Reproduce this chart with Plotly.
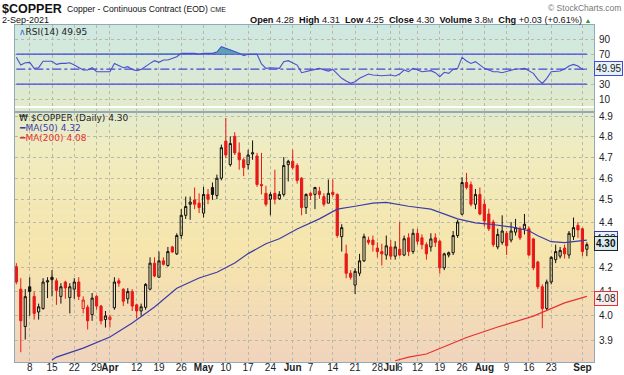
import plotly.graph_objects as go
import pandas as pd

# ---------------- data ----------------
holidays = ["2021-04-02", "2021-05-31", "2021-07-05"]
dates = [d.strftime("%Y-%m-%d") for d in pd.bdate_range("2021-03-03", "2021-09-02")
         if d.strftime("%Y-%m-%d") not in holidays]

open_ = [4.205, 4.11, 3.957, 4.12, 4.08, 4.016, 4.03, 4.14, 4.16, 4.145,
         4.08, 4.14, 4.075, 4.11, 4.14, 4.03, 4.035, 4.005, 4.08, 4.04,
         3.985, 3.985, 4.033, 4.145, 4.11, 4.07, 4.10, 4.045, 4.02, 4.035,
         4.11, 4.22, 4.16, 4.23, 4.21, 4.29, 4.26, 4.34, 4.43, 4.48,
         4.50, 4.485, 4.44, 4.525, 4.557, 4.52, 4.60, 4.777, 4.664, 4.80,
         4.72, 4.687, 4.664, 4.715, 4.705, 4.571, 4.53, 4.503, 4.53, 4.505,
         4.525, 4.664, 4.68, 4.66, 4.60, 4.465, 4.53, 4.525, 4.54, 4.515,
         4.485, 4.535, 4.525, 4.335, 4.26, 4.177, 4.127, 4.177, 4.23, 4.32,
         4.32, 4.285, 4.27, 4.255, 4.29, 4.25, 4.28, 4.255, 4.33, 4.27,
         4.35, 4.33, 4.30, 4.29, 4.33, 4.315, 4.20, 4.255, 4.265, 4.34,
         4.435, 4.58, 4.57, 4.48, 4.525, 4.48, 4.436, 4.40, 4.29, 4.31,
         4.35, 4.32, 4.355, 4.37, 4.37, 4.37, 4.325, 4.225, 4.12, 4.03,
         4.14, 4.235, 4.25, 4.285, 4.255, 4.335, 4.385, 4.37, 4.28]
high = [4.22, 4.156, 4.11, 4.16, 4.10, 4.05, 4.156, 4.16, 4.19, 4.156,
        4.135, 4.145, 4.135, 4.156, 4.16, 4.08, 4.045, 4.094, 4.085, 4.045,
        4.02, 4.005, 4.16, 4.156, 4.114, 4.114, 4.11, 4.05, 4.05, 4.135,
        4.245, 4.245, 4.27, 4.245, 4.29, 4.295, 4.35, 4.458, 4.515, 4.515,
        4.557, 4.53, 4.56, 4.55, 4.58, 4.617, 4.76, 4.89, 4.80, 4.82,
        4.77, 4.695, 4.735, 4.78, 4.72, 4.72, 4.565, 4.535, 4.64, 4.54,
        4.70, 4.687, 4.735, 4.67, 4.605, 4.53, 4.535, 4.56, 4.56, 4.53,
        4.594, 4.594, 4.53, 4.39, 4.30, 4.19, 4.198, 4.26, 4.348, 4.335,
        4.34, 4.31, 4.304, 4.34, 4.32, 4.315, 4.40, 4.34, 4.35, 4.37,
        4.37, 4.345, 4.31, 4.35, 4.35, 4.32, 4.265, 4.27, 4.36, 4.41,
        4.605, 4.625, 4.585, 4.55, 4.557, 4.50, 4.46, 4.41, 4.37, 4.43,
        4.36, 4.40, 4.414, 4.38, 4.436, 4.38, 4.33, 4.23, 4.13, 4.15,
        4.25, 4.30, 4.29, 4.30, 4.36, 4.42, 4.40, 4.375, 4.31]
low = [4.13, 3.855, 3.905, 4.00, 3.985, 3.985, 4.025, 4.073, 4.08, 4.045,
       4.05, 4.07, 4.01, 4.07, 4.065, 4.01, 3.945, 3.98, 4.025, 3.965,
       3.953, 3.953, 4.025, 4.12, 4.04, 4.05, 4.02, 3.99, 4.00, 4.025,
       4.105, 4.16, 4.16, 4.21, 4.205, 4.265, 4.255, 4.326, 4.414, 4.41,
       4.458, 4.44, 4.42, 4.48, 4.50, 4.503, 4.59, 4.695, 4.655, 4.71,
       4.64, 4.61, 4.64, 4.687, 4.56, 4.525, 4.47, 4.43, 4.48, 4.50,
       4.515, 4.585, 4.64, 4.575, 4.43, 4.436, 4.50, 4.458, 4.505, 4.47,
       4.485, 4.515, 4.33, 4.27, 4.156, 4.15, 4.09, 4.165, 4.225, 4.30,
       4.27, 4.245, 4.21, 4.235, 4.235, 4.235, 4.25, 4.25, 4.25, 4.26,
       4.30, 4.28, 4.235, 4.27, 4.29, 4.175, 4.19, 4.245, 4.255, 4.33,
       4.43, 4.548, 4.47, 4.458, 4.43, 4.38, 4.36, 4.29, 4.28, 4.30,
       4.255, 4.31, 4.34, 4.32, 4.345, 4.25, 4.19, 4.11, 3.95, 4.02,
       4.13, 4.22, 4.24, 4.24, 4.24, 4.32, 4.33, 4.25, 4.25]
close = [4.14, 3.98, 4.079, 4.10, 4.01, 4.037, 4.14, 4.145, 4.15, 4.105,
         4.12, 4.115, 4.12, 4.14, 4.08, 4.065, 3.98, 4.073, 4.04, 3.98,
         4.00, 3.995, 4.14, 4.135, 4.06, 4.10, 4.04, 4.02, 4.037, 4.13,
         4.22, 4.165, 4.23, 4.215, 4.27, 4.268, 4.34, 4.43, 4.47, 4.49,
         4.48, 4.465, 4.525, 4.503, 4.525, 4.60, 4.745, 4.71, 4.765, 4.72,
         4.687, 4.65, 4.71, 4.72, 4.571, 4.565, 4.48, 4.525, 4.503, 4.525,
         4.66, 4.68, 4.65, 4.59, 4.465, 4.525, 4.52, 4.557, 4.525, 4.48,
         4.53, 4.525, 4.34, 4.375, 4.177, 4.16, 4.185, 4.23, 4.335, 4.31,
         4.30, 4.27, 4.26, 4.295, 4.25, 4.29, 4.255, 4.326, 4.27, 4.35,
         4.315, 4.30, 4.26, 4.325, 4.31, 4.20, 4.26, 4.265, 4.34, 4.40,
         4.58, 4.557, 4.48, 4.525, 4.436, 4.405, 4.37, 4.30, 4.345, 4.36,
         4.295, 4.36, 4.375, 4.33, 4.39, 4.255, 4.20, 4.12, 4.03, 4.14,
         4.245, 4.27, 4.275, 4.26, 4.35, 4.375, 4.365, 4.27, 4.30]

# moving averages at sample dates (trading-day index -> value)
ma50_idx = [8, 9, 15, 21, 26, 31, 36, 41, 45, 49, 52, 56, 59, 63, 68, 72, 76, 80, 83,
            88, 93, 99, 103, 106, 111, 115, 117, 120, 123, 127, 128]
ma50_val = [3.825, 3.836, 3.871, 3.915, 3.971, 4.036, 4.114, 4.157, 4.181, 4.221, 4.261,
            4.304, 4.326, 4.369, 4.414, 4.458, 4.471, 4.485, 4.489, 4.471, 4.458, 4.414,
            4.396, 4.391, 4.378, 4.361, 4.339, 4.313, 4.309, 4.317, 4.32]
ma200_idx = [85, 88, 92, 101, 108, 116, 123, 128]
ma200_val = [3.822, 3.836, 3.848, 3.913, 3.955, 3.999, 4.053, 4.08]

rsi_idx = [0, 1, 2, 3, 4, 5, 6, 8, 9, 10, 11, 12, 13, 14, 15, 16, 17, 18, 20, 21,
           22, 23, 24, 25, 26, 27, 28, 30, 31, 32, 33, 34, 35, 36, 37, 39, 40, 41, 42, 44,
           45, 46, 47, 48, 50, 51, 52, 54, 55, 56, 57, 59, 60, 61, 63, 64, 66, 67, 68, 69,
           70, 71, 72, 73, 74, 75, 76, 77, 79, 80, 82, 83, 84, 85, 86, 87, 88, 89, 90, 91,
           93, 94, 95, 96, 97, 98, 99, 100, 101, 102, 103, 104, 105, 107, 108, 109, 110, 112, 113, 114,
           116, 117, 118, 119, 120, 122, 123, 124, 125, 126, 127, 128]
rsi_val = [65.6, 55.3, 58.4, 58.9, 50.9, 51.8, 60.4, 60.4, 56.2, 57.5, 57.5, 58.4, 55.3, 51.8, 48.7, 48.7, 51.8, 46.4, 46.4, 46.4,
           57.5, 54.4, 51.8, 53.1, 49.5, 47.8, 49.5, 57.5, 61.1, 58.9, 62.0, 62.0, 64.2, 66.4, 70.9, 71.3, 70.9, 70.0, 70.9, 70.9,
           72.7, 79.8, 77.6, 76.2, 70.9, 67.8, 69.6, 69.6, 56.7, 50.9, 51.8, 50.9, 59.8, 61.1, 55.3, 45.1, 48.7, 49.5, 50.9, 48.7,
           47.3, 49.5, 44.2, 37.6, 34.0, 30.9, 33.1, 37.6, 43.3, 42.0, 41.1, 41.1, 42.0, 40.7, 43.3, 48.7, 46.4, 50.9, 48.7, 46.4,
           47.8, 45.1, 39.8, 45.6, 44.2, 49.5, 50.9, 65.6, 60.7, 57.5, 59.8, 55.3, 50.9, 46.4, 46.4, 45.1, 46.4, 50.0, 50.0, 50.9,
           44.2, 36.2, 30.9, 37.6, 46.4, 47.3, 50.0, 54.0, 56.2, 54.0, 49.5, 49.95]

tick_dates = ["2021-03-08", "2021-03-15", "2021-03-22", "2021-03-29", "2021-04-01", "2021-04-12",
              "2021-04-19", "2021-04-26", "2021-05-03", "2021-05-10", "2021-05-17", "2021-05-24",
              "2021-06-01", "2021-06-07", "2021-06-14", "2021-06-21", "2021-06-28", "2021-07-01",
              "2021-07-06", "2021-07-12", "2021-07-19", "2021-07-26", "2021-08-02", "2021-08-09",
              "2021-08-16", "2021-08-23", "2021-09-01"]
tick_text = ["8", "15", "22", "29", "<b>Apr</b>", "12", "19", "26", "<b>May</b>", "10", "17", "24",
             "<b>Jun</b>", "7", "14", "21", "28", "<b>Jul</b>", "6", "12", "19", "26", "<b>Aug</b>",
             "9", "16", "23", "<b>Sep</b>"]

# ---------------- layout helpers ----------------
W, H = 624, 375
PL, PR, PT, PB = 15, 594, 25, 362          # plot area in pixels
SPLIT = 112                                 # border between RSI and price panels


def ax(px):
    return (px - PL) / (PR - PL)


def ay(py):
    return (PB - py) / (PB - PT)


price_dom = [0, ay(SPLIT)]
rsi_dom = [ay(SPLIT), 1]

FONT = "Liberation Sans, Arial, sans-serif"
BLUE = "#4a4fd0"
RED = "#e81818"

fig = go.Figure()

# RSI reference levels (drawn first so the RSI line sits on top)
for lvl, dash in ((70, "solid"), (30, "solid"), (50, "dashdot")):
    fig.add_trace(go.Scatter(x=[dates[0], dates[-1]], y=[lvl, lvl], mode="lines",
                             line=dict(color="#4646d8", width=1.3, dash=dash),
                             xaxis="x2", yaxis="y2", showlegend=False, hoverinfo="skip"))

# candles: colour = close vs previous close, hollow/filled = close vs open
black_i = [i for i in range(len(close)) if i > 0 and close[i] >= close[i - 1]]
red_i = [i for i in range(len(close)) if not (i > 0 and close[i] >= close[i - 1])]
for idxs, col in ((black_i, "#111111"), (red_i, RED)):
    fig.add_trace(go.Candlestick(
        x=[dates[i] for i in idxs], open=[open_[i] for i in idxs], high=[high[i] for i in idxs],
        low=[low[i] for i in idxs], close=[close[i] for i in idxs],
        increasing=dict(line=dict(color=col, width=1), fillcolor="rgba(255,255,255,0)"),
        decreasing=dict(line=dict(color=col, width=1), fillcolor=col),
        whiskerwidth=0, xaxis="x", yaxis="y", showlegend=False, hoverinfo="skip"))

fig.add_trace(go.Scatter(x=[dates[i] for i in ma50_idx], y=ma50_val, mode="lines",
                         line=dict(color="#3c3ca8", width=1.2), xaxis="x", yaxis="y",
                         showlegend=False, hoverinfo="skip"))
fig.add_trace(go.Scatter(x=[dates[i] for i in ma200_idx], y=ma200_val, mode="lines",
                         line=dict(color="#e83030", width=1.2), xaxis="x", yaxis="y",
                         showlegend=False, hoverinfo="skip"))

# RSI
rsi_x = [dates[i] for i in rsi_idx]
fig.add_trace(go.Scatter(x=rsi_x, y=[70] * len(rsi_x), mode="lines", line=dict(width=0),
                         xaxis="x2", yaxis="y2", showlegend=False, hoverinfo="skip"))
fig.add_trace(go.Scatter(x=rsi_x, y=[max(v, 70) for v in rsi_val], mode="lines", line=dict(width=0),
                         fill="tonexty", fillcolor="rgba(70,150,175,0.85)",
                         xaxis="x2", yaxis="y2", showlegend=False, hoverinfo="skip"))
fig.add_trace(go.Scatter(x=rsi_x, y=rsi_val, mode="lines", line=dict(color=BLUE, width=1.1),
                         xaxis="x2", yaxis="y2", showlegend=False, hoverinfo="skip"))

# gradient background
stops = [(PT, (206, 232, 226)), (SPLIT, (226, 234, 204)), (150, (240, 236, 192)),
         (250, (246, 229, 172)), (PB, (240, 212, 190))]


def col_at(py):
    for (y0, c0), (y1, c1) in zip(stops[:-1], stops[1:]):
        if y0 <= py <= y1:
            t = (py - y0) / (y1 - y0)
            return "rgb(%d,%d,%d)" % tuple(round(a + (b - a) * t) for a, b in zip(c0, c1))
    return "rgb(%d,%d,%d)" % stops[-1][1]


shapes = []
N = 80
for k in range(N):
    y0 = PT + (PB - PT) * k / N
    y1 = PT + (PB - PT) * (k + 1) / N
    shapes.append(dict(type="rect", xref="paper", yref="paper", x0=0, x1=1, y0=ay(y1), y1=ay(y0) + 0.002,
                       fillcolor=col_at((y0 + y1) / 2), line=dict(width=0), layer="below"))
# panel border between RSI and price
shapes.append(dict(type="line", xref="paper", yref="paper", x0=0, x1=1, y0=ay(SPLIT), y1=ay(SPLIT),
                   line=dict(color="#93a9b4", width=1), layer="above"))
fig.update_layout(shapes=shapes)

grid = dict(showgrid=True, gridcolor="#b9b9a6", griddash="dot", gridwidth=1)
axis_line = dict(showline=True, linecolor="#93a9b4", linewidth=1, mirror=True, automargin=False)

fig.update_layout(
    width=W, height=H, margin=dict(l=PL, r=W - PR, t=PT, b=H - PB, autoexpand=False),
    paper_bgcolor="white", plot_bgcolor="rgba(0,0,0,0)",
    font=dict(family=FONT, size=10, color="#222"),
    xaxis=dict(type="category", categoryorder="array", categoryarray=dates, range=[-0.3, 129.6],
               tickmode="array", tickvals=tick_dates, ticktext=tick_text, ticks="", ticklen=0,
               tickangle=0, ticklabelstandoff=-4, tickfont=dict(size=10, color="#222"),
               rangeslider=dict(visible=False), anchor="y", **grid, **axis_line),
    xaxis2=dict(type="category", categoryorder="array", categoryarray=dates, range=[-0.3, 129.6],
                tickmode="array", tickvals=tick_dates, showticklabels=False, ticks="",
                anchor="y2", **grid, **axis_line),
    yaxis=dict(type="log", domain=price_dom, range=[0.58172, 0.69197], side="right",
               tickmode="array", tickvals=[3.9, 4.0, 4.1, 4.2, 4.4, 4.5, 4.6, 4.7, 4.8, 4.9],
               ticktext=["3.9", "4.0", "4.1", "4.2", "4.4", "4.5", "4.6", "4.7", "4.8", "4.9"],
               ticks="", ticklen=0, ticklabelstandoff=2, tickfont=dict(size=10, color="#222"),
               anchor="x", **grid, **axis_line),
    yaxis2=dict(domain=rsi_dom, range=[-7.3, 108.7], side="right", tickmode="array",
                tickvals=[10, 30, 70, 90], ticks="", ticklen=0, ticklabelstandoff=2,
                tickfont=dict(size=10, color="#222"), anchor="x2", **grid, **axis_line),
)

ann = []


def text(px, py, s, size=10, color="#222", xanchor="left", bold=False, fam=FONT, **kw):
    ann.append(dict(xref="paper", yref="paper", x=ax(px), y=ay(py), text=("<b>%s</b>" % s) if bold else s,
                    showarrow=False, xanchor=xanchor, yanchor="middle",
                    font=dict(size=size, color=color, family=fam), **kw))


text(0, 9, "$COPPER", size=12.5, color="#111", bold=True)
text(65, 9, "Copper - Continuous Contract (EOD) <span style='font-size:7px'>CME</span>", size=8.6,
     color="#111")
text(623, 8, "© StockCharts.com", size=8.5, color="#777", xanchor="right")
text(0, 20, "2-Sep-2021", size=9, color="#111")
text(594, 20, "<b>Open</b> 4.28  <b>High</b> 4.31  <b>Low</b> 4.25  <b>Close</b> 4.30  "
     "<b>Volume</b> 3.8<span style='font-size:7px'>M</span>  <b>Chg</b> +0.03 (+0.61%) "
     "<span style='color:#2a9a2a;font-size:7px'>▲</span>", size=9.2, color="#111", xanchor="right")

# panel legends
text(17, 32, "<span style='color:#3c6ad8'>∧</span>RSI(14) 49.95", size=9, color="#222",
     fam="DejaVu Sans, sans-serif")
text(17, 118, "₩ $COPPER (Daily) 4.30", size=9, color="#222", fam="DejaVu Sans, sans-serif")
text(17, 128, "<span style='color:#3c3ca8'>━</span>MA(50) 4.32", size=9, color="#3c3ca8",
     fam="DejaVu Sans, sans-serif")
text(17, 138, "<span style='color:#e83030'>━</span>MA(200) 4.08", size=9, color="#e83030",
     fam="DejaVu Sans, sans-serif")

# value boxes on the right axis
text(594, 69, "49.95", size=10, color="#222", bordercolor="#4646d8", bgcolor="#e6f2f8", borderpad=1,
     borderwidth=1)
text(594, 239, "4.32", size=10, color="#222", bordercolor="#3c3ca8", bgcolor="#e6f2f8", borderpad=1,
     borderwidth=1)
text(594, 243, "<b>4.30</b>", size=10, color="#111", bordercolor="#222", bgcolor="#d8ecef",
     borderpad=1, borderwidth=1)
text(594, 298, "4.08", size=10, color="#222", bordercolor="#e83030", bgcolor="#fbeeee", borderpad=1,
     borderwidth=1)
fig.update_layout(annotations=ann)

fig.write_html("out.html", config={"displayModeBar": False},
               post_script="document.body.style.margin='0px';")
